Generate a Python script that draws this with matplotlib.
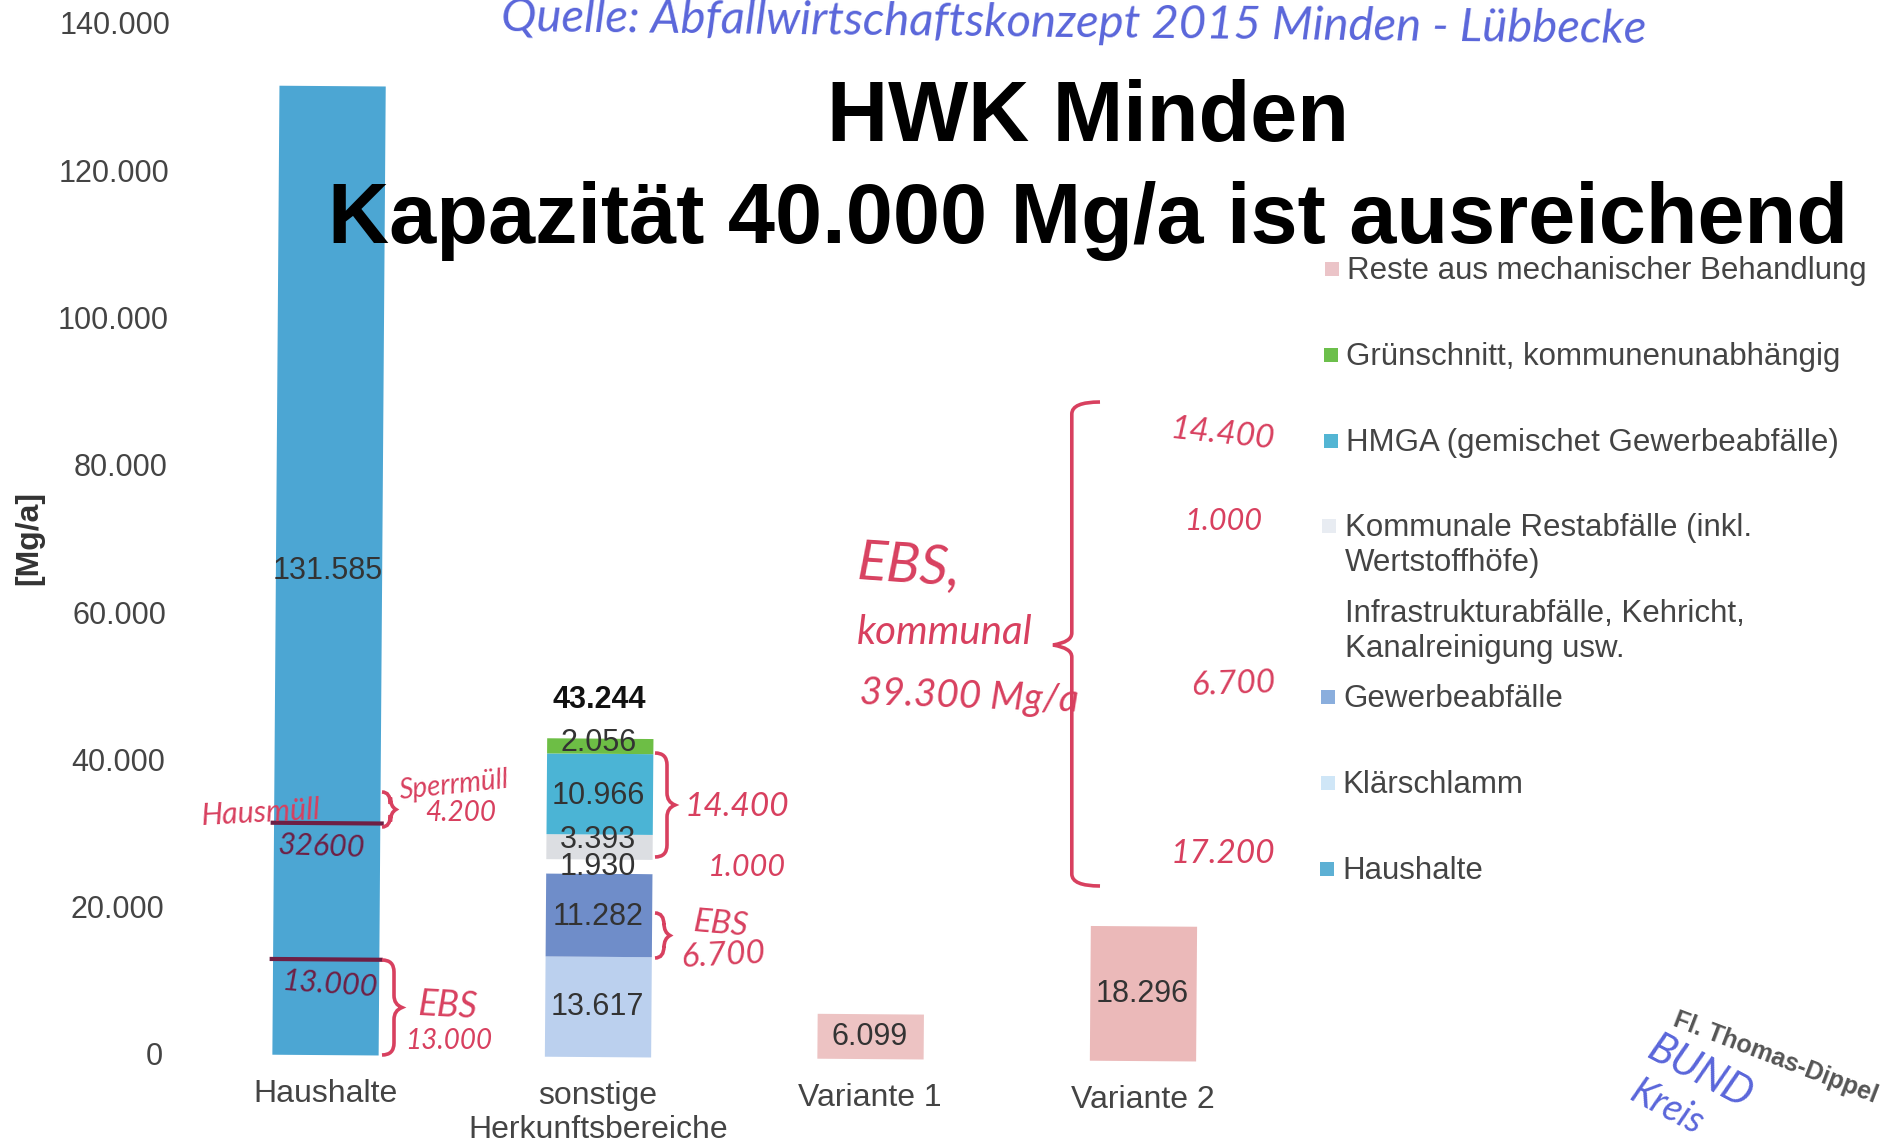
import matplotlib
matplotlib.use("Agg")
import matplotlib.pyplot as plt
from matplotlib.path import Path
from matplotlib.patches import PathPatch
from matplotlib.transforms import Affine2D

W, H = 1883, 1144

categories = ["Haushalte", "sonstige\nHerkunftsbereiche", "Variante 1", "Variante 2"]
y_ticks = [0, 20000, 40000, 60000, 80000, 100000, 120000, 140000]
y_tick_labels = ["0", "20.000", "40.000", "60.000", "80.000", "100.000", "120.000", "140.000"]

haushalte = 131585
klaerschlamm = 13617
gewerbe = 11282
infrastruktur = 1930
kommunal = 3393
hmga = 10966
gruen = 2056
total_sonstige = 43244
reste_v1 = 6099
reste_v2 = 18296
split_ebs = 13000
split_haus = 31500

legend_labels = ["Reste aus mechanischer Behandlung", "Grünschnitt, kommunenunabhängig",
                 "HMGA (gemischet Gewerbeabfälle)", "Kommunale Restabfälle (inkl.\nWertstoffhöfe)",
                 "Infrastrukturabfälle, Kehricht,\nKanalreinigung usw.", "Gewerbeabfälle",
                 "Klärschlamm", "Haushalte"]
legend_colors = ["#EBC4C8", "#6CBF4B", "#53B5D3", "#E8ECF2", "#FFFFFF", "#8AAEDD", "#CFE6F7", "#5DB0D4"]

FONT = "Liberation Sans"
HAND = "Lato"
RED = "#D8405F"
MAROON = "#6E1F45"
BLUE = "#5A66DA"
plt.rcParams["font.family"] = FONT

fig = plt.figure(figsize=(W / 100, H / 100), dpi=100, facecolor="white")
L, R, B, T = 175, 1300, 1054, 23
X0, DX = 325.5, 272.5
ax = fig.add_axes([L / W, 1 - B / H, (R - L) / W, (B - T) / H])
ax.set_xlim((L - X0) / DX, (R - X0) / DX)
ax.set_ylim(0, 140000)
for s in ax.spines.values():
    s.set_visible(False)
ax.patch.set_visible(False)

rot = Affine2D().rotate_deg_around(L, H - B, -0.42)
data_rot = ax.transData + rot
px = Affine2D().scale(1, -1).translate(0, H)

def bar(x, h, bottom, color):
    for p in ax.bar(x, h, 0.39, bottom=bottom, color=color, linewidth=0):
        p.set_transform(data_rot)
        p.set_clip_on(False)

bar(0, haushalte, 0, "#4CA6D3")
bottom = 0
stack = [(klaerschlamm, "#BBD0EE"), (gewerbe, "#6F8DC9"), (infrastruktur, "#FFFFFF"),
         (kommunal, "#DCDEE2"), (hmga, "#4BB4D5"), (gruen, "#6DBE45")]
labels_y = []
for v, c in stack:
    bar(1, v, bottom, c)
    labels_y.append((bottom + v / 2, v))
    bottom += v
bar(2, reste_v1, 0, "#EDC3C3")
bar(3, reste_v2, 0, "#EBB9B9")

nudge = {kommunal: 1000, gruen: 500, gewerbe: -300, hmga: -200}

def val(x, y, v, **kw):
    s = f"{v:,}".replace(",", ".")
    ax.text(x - 0.005, y, s, transform=data_rot, ha="center", va="center", fontsize=22,
            color=kw.pop("color", "#333333"), zorder=5, **kw)

val(0, haushalte / 2, haushalte)
for y, v in labels_y:
    val(1, y + nudge.get(v, 0), v)
val(1, total_sonstige + 5200, total_sonstige, color="#111111", fontweight="bold")
val(2, reste_v1 / 2, reste_v1)
val(3, reste_v2 / 2, reste_v2)

# dark pen lines across the Haushalte bar
for v in (split_ebs, split_haus):
    ax.plot([-0.2, 0.2], [v, v], color=MAROON, lw=3, transform=data_rot, clip_on=False, zorder=6)

ax.set_yticks(y_ticks, y_tick_labels)
ax.set_xticks(range(4), categories)
ax.tick_params(axis="y", length=0, pad=8.5, labelsize=22, labelcolor="#444444")
ax.tick_params(axis="x", length=0, pad=17.5, labelsize=23, labelcolor="#444444")
for lab in ax.get_yticklabels() + ax.get_xticklabels():
    lab.set_transform(lab.get_transform() + rot)
    lab.set_linespacing(1.15)

ax.set_ylabel("[Mg/a]", fontsize=23, color="#333333", fontweight="bold")
ax.yaxis.set_label_coords((44 - L) / (R - L), (B - 538) / (B - T))

ax.set_title("HWK Minden\nKapazität 40.000 Mg/a ist ausreichend", fontsize=61, fontweight="bold",
             color="black", x=(1088 - L) / (R - L), y=(B - 178.5) / (B - T), va="center",
             linespacing=1.354)
ax.title.set_zorder(20)

# legend
scale = 1883 / 1568
ys = [224, 296, 367, 438, 510, 580, 652, 724]
xs_m = [1109, 1108, 1108, 1107, 1107, 1106, 1106, 1105]
xs_t = [1122, 1121, 1121, 1120, 1120, 1119, 1118, 1118]
for lab, col, y, xm, xt in zip(legend_labels, legend_colors, ys, xs_m, xs_t):
    fig.add_artist(plt.Rectangle((xm * scale - 7, y * scale - 7), 14, 14, facecolor=col,
                                 linewidth=0, transform=px))
    fig.text(xt * scale, y * scale - 13, lab, transform=px, ha="left", va="top", fontsize=22.5,
             color="#444444", linespacing=1.2)

# handwritten notes: (text, x, y, size, rotation, colour), positions in reduced-picture units
notes = [
    ("Quelle: Abfallwirtschaftskonzept 2015 Minden - Lübbecke", 894, 20, 34, -0.6, BLUE),
    ("Hausmüll", 217, 677, 22, 3, RED), ("32600", 268, 705, 22, -2, MAROON),
    ("Sperrmüll", 378, 654, 20, 6, RED), ("4.200", 384, 677, 20, 0, RED),
    ("13.000", 275, 820, 22, -4, MAROON), ("EBS", 373, 838, 26, -3, RED),
    ("13.000", 374, 867, 20, 0, RED), ("14.400", 614, 672, 24, 0, RED),
    ("1.000", 622, 722, 22, 0, RED), ("EBS", 600, 770, 24, -5, RED),
    ("6.700", 602, 796, 24, 3, RED), ("14.400", 1018, 362, 24, -6, RED),
    ("1.000", 1019, 434, 22, 0, RED), ("6.700", 1027, 570, 24, 2, RED),
    ("17.200", 1018, 711, 24, 0, RED), ("EBS,", 757, 472, 40, -4, RED),
    ("kommunal", 787, 527, 29, 0, RED), ("39.300 Mg/a", 807, 580, 28, -2, RED),
    ("Fl. Thomas-Dippel", 1478, 881, 18, -21, "#555555"), ("BUND", 1416, 893, 30, -28, BLUE),
    ("Kreis", 1388, 922, 27, -28, BLUE),
]
for t, x, y, size, r, c in notes:
    stamp = c == "#555555"
    fig.text(x * scale, y * scale, t, transform=px, ha="center", va="center", fontsize=size,
             rotation=r, rotation_mode="anchor", color=c, family=FONT if stamp else HAND,
             style="normal" if stamp else "italic", fontweight="bold" if stamp else "normal", zorder=25)

def brace(x, y0, y1, w, tip=None, color=RED, lw=2.6):
    """Curly brace between y0 and y1, opening toward x, bulging by w (full-size pixels)."""
    tip = (y0 + y1) / 2 if tip is None else tip
    q = x + w * 0.6
    v = [(x, y0), (q, y0), (q, y0 + 12),
         (q, tip - 12), (q, tip - 3), (x + w, tip),
         (q, tip + 3), (q, tip + 12),
         (q, y1 - 12), (q, y1), (x, y1)]
    codes = [Path.MOVETO, Path.CURVE3, Path.CURVE3, Path.LINETO, Path.CURVE3, Path.CURVE3,
             Path.CURVE3, Path.CURVE3, Path.LINETO, Path.CURVE3, Path.CURVE3]
    fig.add_artist(PathPatch(Path(v, codes), facecolor="none", edgecolor=color, lw=lw,
                             transform=px, zorder=24))

brace(382, 792, 827, 14)
brace(382, 960, 1055, 20)
brace(655, 753, 857, 20)
brace(655, 913, 958, 15)
brace(1100, 402, 886, -47, tip=645)

fig.savefig("out.png", dpi=100, facecolor="white")
